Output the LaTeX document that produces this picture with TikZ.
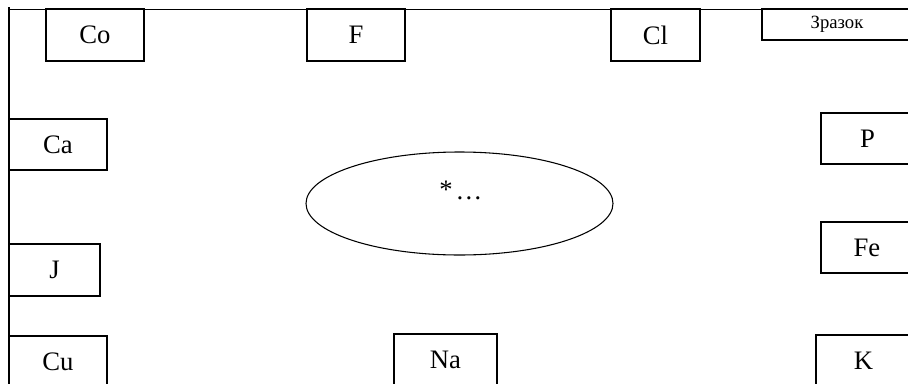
\documentclass[tikz,border=0pt]{standalone}
\usepackage{fontspec}
\setmainfont{Liberation Serif}
\usetikzlibrary{shapes.geometric}
\begin{document}
\begin{tikzpicture}[x=0.75pt,y=-0.75pt,
  line width=0.8pt,
  box/.style 2 args={draw, inner sep=0pt, minimum width=#1*0.75pt, minimum height=#2*0.75pt, font=\fontsize{20}{22}\selectfont},
  smallbox/.style 2 args={box={#1}{#2}, font=\fontsize{14}{16}\selectfont},
  lbl/.style={inner sep=0pt, anchor=base, font=\fontsize{20}{22}\selectfont}]
\useasboundingbox (0,0) rectangle (908,383);
\fill[white] (0,0) rectangle (908,383);
\clip (0,0) rectangle (908,383);
% frame lines
\coordinate (tl) at (8,9.5);
\coordinate (tr) at (910,9.5);
\coordinate (lt) at (9,7);
\coordinate (lb) at (9,390);
\draw (tl) -- (tr);
\draw (lt) -- (lb);
% top row
\node[box={98}{52}, fill=white] (co) at (95,35) {Co};
\node[box={98}{52}, fill=white] (f) at (356,35) {F};
\node[box={89}{52}, fill=white] (cl) at (655.5,35) {Cl};
\node[smallbox={150}{31}, fill=white] (zr) at (837,24.5) {Зразок};
% left column
\node[box={98}{51}, fill=white] (ca) at (58,144.5) {Ca};
\node[box={91}{52}, fill=white] (j) at (54.5,270) {J};
\node[box={98}{52}, fill=white] (cu) at (58,362) {Cu};
% bottom
\node[box={103}{52}, fill=white] (na) at (445.5,360) {Na};
% right column
\node[box={93}{51}, fill=white] (p) at (867.5,138.5) {P};
\node[box={92}{51}, fill=white] (fe) at (867,247.5) {Fe};
\node[box={95}{52}, fill=white] (k) at (863.5,361) {K};
% ellipse
\node[draw, ellipse, inner sep=0pt, minimum width=307*0.75pt, minimum height=103*0.75pt] (el) at (459.5,203.5) {};
\node[lbl] (star) at (446,198) {*};
\node[lbl] (dots) at (469,199) {…};
\end{tikzpicture}
\end{document}
